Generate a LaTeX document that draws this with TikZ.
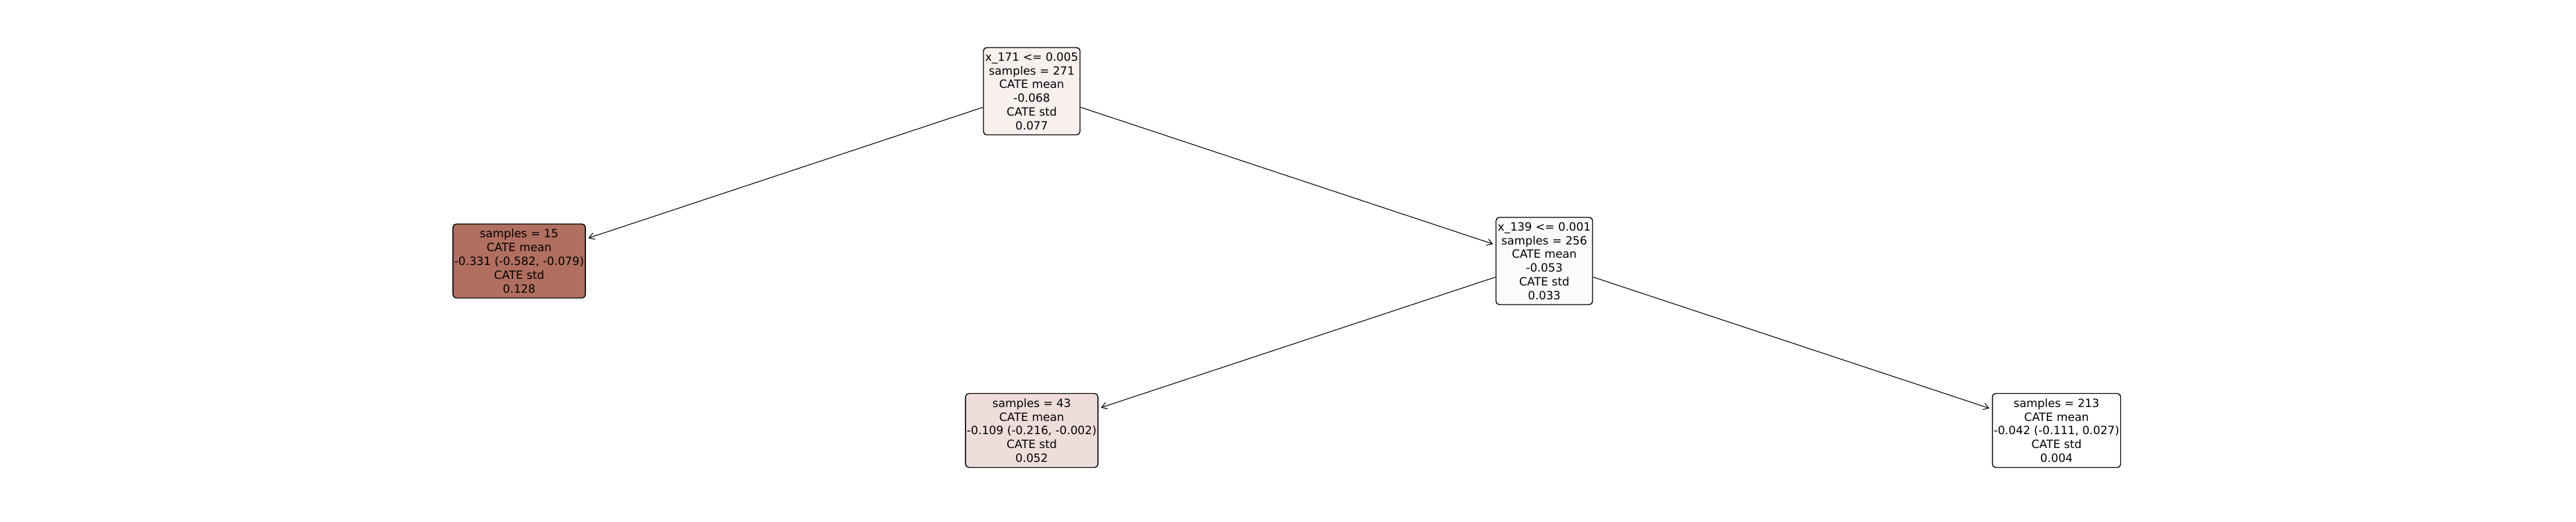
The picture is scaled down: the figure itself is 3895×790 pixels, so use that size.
\documentclass[tikz,border=0pt]{standalone}
\usepackage{fontspec}
\setmainfont{DejaVu Sans}
\usepackage{tikz}
\usetikzlibrary{arrows.meta}
\definecolor{leafdark}{RGB}{177,111,96}
\definecolor{rootfill}{RGB}{248,240,239}
\definecolor{leafpale}{RGB}{238,221,219}
\definecolor{splitfill}{RGB}{252,250,250}
\tikzset{
  treenode/.style={rectangle,rounded corners=2.5pt,draw=black,line width=0.7pt,align=center,
    inner xsep=1pt,inner ysep=2.5pt,font=\fontsize{8.6}{10.4}\selectfont},
  splitnode/.style={treenode,minimum width=73pt,minimum height=66pt},
  leafnode/.style={treenode,minimum height=56pt},
  edge/.style={-{Straight Barb[length=4pt,width=5pt]},line width=0.55pt,shorten >=2pt}
}
\begin{document}
\begin{tikzpicture}[x=0.5pt,y=-0.5pt]
  \useasboundingbox (0,0) rectangle (3895,790);
  %% split nodes
  \node[splitnode,fill=rootfill] (root) at (1560,138) {x\_171 <= 0.005\\samples = 271\\CATE mean\\-0.068\\CATE std\\0.077};
  \node[splitnode,fill=splitfill] (split) at (2335,395) {x\_139 <= 0.001\\samples = 256\\CATE mean\\-0.053\\CATE std\\0.033};

  %% leaves
  \node[leafnode,fill=leafdark] (leafA) at (785,395) {samples = 15\\CATE mean\\-0.331 (-0.582, -0.079)\\CATE std\\0.128};
  \node[leafnode,fill=leafpale] (leafB) at (1560,651.5) {samples = 43\\CATE mean\\-0.109 (-0.216, -0.002)\\CATE std\\0.052};
  \node[leafnode,fill=white] (leafC) at (3109.5,651.5) {samples = 213\\CATE mean\\-0.042 (-0.111, 0.027)\\CATE std\\0.004};

  \draw[edge] (root)--(leafA); \draw[edge] (root)--(split);
  \draw[edge] (split)--(leafB); \draw[edge] (split)--(leafC);
\end{tikzpicture}
\end{document}
